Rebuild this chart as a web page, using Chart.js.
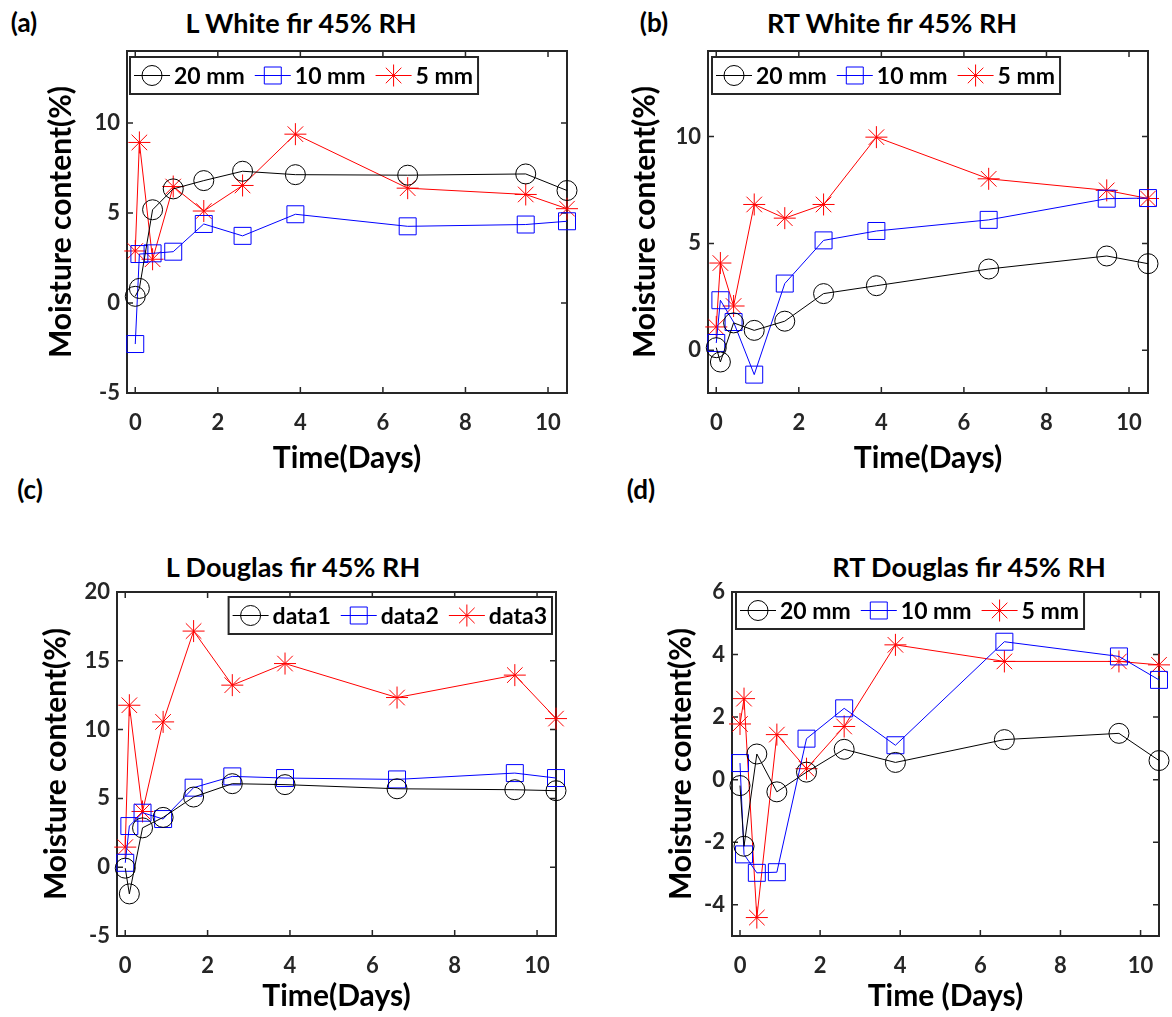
<!DOCTYPE html>
<html lang="en">
  <head>
    <meta charset="UTF-8" />
    <title>Moisture content at 45% RH</title>
    <script src="https://cdn.jsdelivr.net/npm/chart.js"></script>
    <style>
      body { margin: 0; background: #fff; }
      .page {
        position: relative;
        width: 1172px;
        height: 1017px;
        overflow: hidden;
        font-family: Lato, "Open Sans", sans-serif;
        font-weight: bold;
        color: #000;
      }
      .tag, .title {
        position: absolute;
        font-size: 26px;
        white-space: nowrap;
        transform: translate(-50%, -50%);
      }
      .title { font-size: 27px; }
      canvas { position: absolute; }
    </style>
  </head>
  <body>
    <div class="page">
      <div class="tag" style="left: 24px; top: 22px">(a)</div>
      <div class="title" style="left: 301px; top: 22px">L White fir 45% RH</div>
      <div class="tag" style="left: 654px; top: 22px">(b)</div>
      <div class="title" style="left: 892px; top: 22px">RT White fir 45% RH</div>
      <div class="tag" style="left: 30px; top: 489px">(c)</div>
      <div class="title" style="left: 293px; top: 566px">L Douglas fir 45% RH</div>
      <div class="tag" style="left: 641px; top: 489px">(d)</div>
      <div class="title" style="left: 969px; top: 566px">RT Douglas fir 45% RH</div>
      <canvas id="chartA"></canvas>
      <canvas id="chartB"></canvas>
      <canvas id="chartC"></canvas>
      <canvas id="chartD"></canvas>
    </div>

    <script>
      // sampling times (days), shared by every panel
      const days = [0, 0.1, 0.42, 0.92, 1.66, 2.6, 3.88, 6.6, 9.46, 10.46];
      const xTicks = [0, 2, 4, 6, 8, 10];

      // (a) L White fir
      const aWhite20 = [0.37, 0.81, 5.18, 6.34, 6.8, 7.32, 7.13, 7.1, 7.17, 6.25];
      const aWhite10 = [-2.28, 2.72, 2.76, 2.85, 4.39, 3.73, 4.93, 4.26, 4.36, 4.54];
      const aWhite5 = [2.89, 8.92, 2.43, 6.47, 5.11, 6.53, 9.38, 6.38, 6.03, 5.24];
      const aTicks = [-5, 0, 5, 10];

      // (b) RT White fir
      const bWhite20 = [0.12, -0.55, 1.28, 0.93, 1.36, 2.65, 3.02, 3.8, 4.41, 4.05];
      const bWhite10 = [0.34, 2.34, 1.32, -1.14, 3.12, 5.14, 5.58, 6.1, 7.09, 7.12];
      const bWhite5 = [1.09, 4.08, 2.07, 6.82, 6.18, 6.82, 9.97, 8.02, 7.48, 7.1];
      const bTicks = [0, 5, 10];

      // (c) L Douglas fir
      const cDouglas1 = [-0.07, -1.94, 2.86, 3.62, 5.1, 6.07, 6.0, 5.7, 5.63, 5.56];
      const cDouglas2 = [0.32, 2.99, 3.96, 3.5, 5.78, 6.6, 6.48, 6.38, 6.84, 6.48];
      const cDouglas3 = [1.46, 11.77, 4.05, 10.56, 17.16, 13.23, 14.8, 12.33, 13.96, 10.8];
      const cTicks = [-5, 0, 5, 10, 15, 20];

      // (d) RT Douglas fir
      const dDouglas20 = [-0.19, -2.13, 0.82, -0.39, 0.24, 0.97, 0.55, 1.28, 1.48, 0.61];
      const dDouglas10 = [0.53, -2.39, -2.98, -2.96, 1.31, 2.28, 1.1, 4.41, 3.94, 3.19];
      const dDouglas5 = [1.78, 2.59, -4.41, 1.44, 0.35, 1.7, 4.31, 3.78, 3.78, 3.67];
      const dTicks = [-4, -2, 0, 2, 4, 6];

      const sizeNames = ["20 mm", "10 mm", "5 mm"];
      const dataNames = ["data1", "data2", "data3"];

      const FONT = "Lato, 'Open Sans', sans-serif";
      const TICK_SIZE = 22;
      const AXIS_TITLE_SIZE = 30;
      const LEGEND_SIZE = 23;

      const seriesStyle = [
        { color: "#000000", pointStyle: "circle", radius: 10 },
        { color: "#0000ff", pointStyle: "rect", radius: 12 },
        { color: "#ff0000", pointStyle: "star", radius: 11 },
      ];

      const panels = [
        {
          canvas: "chartA", names: sizeNames, series: [aWhite20, aWhite10, aWhite5],
          yMin: -5, yMax: 14, yTicks: aTicks, xTitle: "Time(Days)",
          box: { x: 30, y: 0, w: 560, h: 490 }, area: { l: 127, t: 51, r: 567, b: 393 },
          yTitleX: 61, xTitleY: 458, legend: { side: "left", dx: 3, dy: 6 },
        },
        {
          canvas: "chartB", names: sizeNames, series: [bWhite20, bWhite10, bWhite5],
          yMin: -2, yMax: 14, yTicks: bTicks, xTitle: "Time(Days)",
          box: { x: 610, y: 0, w: 562, h: 490 }, area: { l: 708, t: 51, r: 1148, b: 393 },
          yTitleX: 645, xTitleY: 458, legend: { side: "left", dx: 4, dy: 6 },
        },
        {
          canvas: "chartC", names: dataNames, series: [cDouglas1, cDouglas2, cDouglas3],
          yMin: -5, yMax: 20, yTicks: cTicks, xTitle: "Time(Days)",
          box: { x: 20, y: 490, w: 570, h: 527 }, area: { l: 117, t: 592, r: 556, b: 936 },
          yTitleX: 56, xTitleY: 996, legend: { side: "right", dx: 4, dy: 5 },
        },
        {
          canvas: "chartD", names: sizeNames, series: [dDouglas20, dDouglas10, dDouglas5],
          yMin: -5, yMax: 6, yTicks: dTicks, xTitle: "Time (Days)",
          box: { x: 610, y: 490, w: 562, h: 527 }, area: { l: 732, t: 592, r: 1171, b: 936 },
          yTitleX: 681, xTitleY: 996, legend: { side: "left", dx: 4, dy: 0 },
        },
      ];

      // axes box with inward ticks on all four sides
      const boxFrame = {
        id: "boxFrame",
        beforeDatasetsDraw(chart) {
          const { ctx, chartArea: a, scales } = chart;
          const tick = 6;
          ctx.save();
          ctx.strokeStyle = "#262626";
          ctx.lineWidth = 1.5;
          ctx.beginPath();
          scales.x.ticks.forEach((t) => {
            const px = scales.x.getPixelForValue(t.value);
            ctx.moveTo(px, a.bottom);
            ctx.lineTo(px, a.bottom - tick);
            ctx.moveTo(px, a.top);
            ctx.lineTo(px, a.top + tick);
          });
          scales.y.ticks.forEach((t) => {
            const py = scales.y.getPixelForValue(t.value);
            ctx.moveTo(a.left, py);
            ctx.lineTo(a.left + tick, py);
            ctx.moveTo(a.right, py);
            ctx.lineTo(a.right - tick, py);
          });
          ctx.stroke();
          ctx.lineWidth = 2;
          ctx.strokeRect(a.left, a.top, a.right - a.left, a.bottom - a.top);
          ctx.restore();
        },
      };

      // boxed legend in MATLAB style: line + marker + label
      const boxLegend = {
        id: "boxLegend",
        afterDraw(chart, args, opts) {
          const { ctx, chartArea: a } = chart;
          const sets = chart.data.datasets;
          const lineLen = 36;
          const h = 37;
          ctx.save();
          ctx.font = `bold ${LEGEND_SIZE}px ${FONT}`;
          const widths = sets.map((ds) => ctx.measureText(ds.label).width);
          const w = 4 + widths.reduce((s, tw) => s + lineLen + 4 + tw, 0) + 10 * (sets.length - 1) + 5;
          const x0 = opts.side === "left" ? a.left + opts.dx : a.right - opts.dx - w;
          const y0 = a.top + opts.dy;
          ctx.fillStyle = "#fff";
          ctx.fillRect(x0, y0, w, h);
          ctx.lineWidth = 2;
          ctx.strokeStyle = "#262626";
          ctx.strokeRect(x0, y0, w, h);
          const cy = y0 + h / 2;
          let x = x0 + 4;
          sets.forEach((ds, i) => {
            ctx.strokeStyle = ds.borderColor;
            ctx.lineWidth = 1;
            ctx.beginPath();
            ctx.moveTo(x, cy);
            ctx.lineTo(x + lineLen, cy);
            ctx.stroke();
            ctx.fillStyle = "rgba(0,0,0,0)";
            Chart.helpers.drawPoint(
              ctx,
              { pointStyle: ds.pointStyle, radius: ds.pointRadius, borderWidth: 1, rotation: 0 },
              x + lineLen / 2,
              cy
            );
            ctx.fillStyle = "#000";
            ctx.textBaseline = "middle";
            ctx.textAlign = "left";
            ctx.fillText(ds.label, x + lineLen + 4, cy + 1);
            x += lineLen + 4 + widths[i] + 10;
          });
          ctx.restore();
        },
      };

      function makeChart(p) {
        const canvas = document.getElementById(p.canvas);
        canvas.width = p.box.w;
        canvas.height = p.box.h;
        canvas.style.left = p.box.x + "px";
        canvas.style.top = p.box.y + "px";

        const yAxisWidth = p.area.l - p.box.x;
        const xAxisHeight = p.box.y + p.box.h - p.area.b;
        const titleLine = AXIS_TITLE_SIZE * 1.2;

        const datasets = p.series.map((values, i) => ({
          label: p.names[i],
          data: days.map((d, k) => ({ x: d, y: values[k] })),
          showLine: true,
          borderColor: seriesStyle[i].color,
          borderWidth: 1,
          pointStyle: seriesStyle[i].pointStyle,
          pointRadius: seriesStyle[i].radius,
          pointBorderColor: seriesStyle[i].color,
          pointBackgroundColor: "rgba(0,0,0,0)",
          pointBorderWidth: 1,
          tension: 0,
          clip: false,
        }));

        new Chart(canvas, {
          type: "scatter",
          data: { datasets },
          plugins: [boxFrame, boxLegend],
          options: {
            responsive: false,
            animation: false,
            layout: {
              padding: { top: p.area.t - p.box.y, right: p.box.x + p.box.w - p.area.r, left: 0, bottom: 0 },
            },
            plugins: {
              legend: { display: false },
              tooltip: { enabled: false },
              boxLegend: p.legend,
            },
            scales: {
              x: {
                type: "linear",
                min: -0.2,
                max: 10.46,
                afterBuildTicks: (s) => { s.ticks = xTicks.map((v) => ({ value: v })); },
                afterFit: (s) => { s.height = xAxisHeight; },
                grid: { display: false, drawTicks: false },
                border: { display: false },
                ticks: {
                  autoSkip: false,
                  maxRotation: 0,
                  padding: 17,
                  color: "#262626",
                  font: { family: FONT, size: TICK_SIZE, weight: "bold" },
                },
                title: {
                  display: true,
                  text: p.xTitle,
                  color: "#000",
                  font: { family: FONT, size: AXIS_TITLE_SIZE, weight: "bold" },
                  padding: { top: 0, bottom: p.box.y + p.box.h - p.xTitleY - titleLine / 2 },
                },
              },
              y: {
                type: "linear",
                min: p.yMin,
                max: p.yMax,
                afterBuildTicks: (s) => { s.ticks = p.yTicks.map((v) => ({ value: v })); },
                afterFit: (s) => { s.width = yAxisWidth; },
                grid: { display: false, drawTicks: false },
                border: { display: false },
                ticks: {
                  autoSkip: false,
                  padding: 7,
                  color: "#262626",
                  font: { family: FONT, size: TICK_SIZE, weight: "bold" },
                },
                title: {
                  display: true,
                  text: "Moisture content(%)",
                  color: "#000",
                  font: { family: FONT, size: AXIS_TITLE_SIZE, weight: "bold" },
                  padding: { top: p.yTitleX - p.box.x - titleLine / 2, bottom: 0 },
                },
              },
            },
          },
        });
      }

      document.addEventListener("DOMContentLoaded", () => {
        panels.forEach(makeChart);
      });
    </script>
  </body>
</html>
